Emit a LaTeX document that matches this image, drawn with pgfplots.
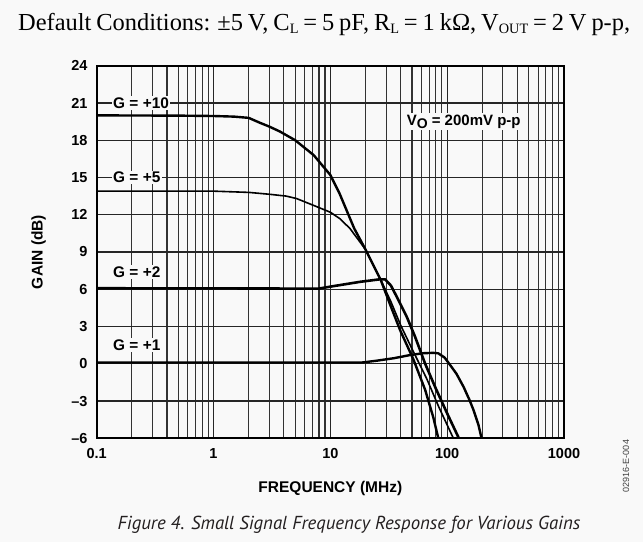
\documentclass[border=0pt]{standalone}
\usepackage{fontspec}
\setmainfont{Liberation Sans}
\newfontfamily\seriffont[WordSpace=0.8]{Liberation Serif}
\newfontfamily\capfont{PT Sans}
\usepackage{pgfplots}
\pgfplotsset{compat=1.18}
\definecolor{bg}{RGB}{249,249,249}
\definecolor{capcol}{RGB}{35,31,32}
\newcommand{\sub}[1]{\raisebox{-0.1em}{\fontsize{17}{17}\selectfont #1}}
\begin{document}
\begin{tikzpicture}[x=1pt,y=1pt]
\fill[bg] (0,0) rectangle (643,542);
\useasboundingbox (0,0) rectangle (643,542);
\node[anchor=base west, inner sep=0] at (18,511) {\resizebox{612pt}{!}{\seriffont\fontsize{29}{29}\selectfont Default Conditions: ±5 V, C\sub{L} = 5 pF, R\sub{L} = 1 kΩ, V\sub{OUT} = 2 V p-p,}};
\node[anchor=base, inner sep=0, text=capcol] at (349,13) {\capfont\itshape\fontsize{18.8}{18.8}\selectfont Figure 4. Small Signal Frequency Response for Various Gains};
\node[rotate=90, inner sep=0, text=black!75] at (626,76) {\fontsize{9}{9}\selectfont 02916-E-004};
\begin{axis}[
  at={(96.7pt,103.7pt)}, anchor=south west,
  scale only axis, width=467.3pt, height=372.6pt,
  xmode=log, xmin=0.1, xmax=1000, ymin=-6, ymax=24,
  xtick={0.1,1,10,100,1000}, xticklabels={0.1,1,10,100,1000},
  ytick={-6,-3,0,3,6,9,12,15,18,21,24},
  yticklabels={–6,–3,0,3,6,9,12,15,18,21,24},
  grid=both,
  major grid style={black!85, line width=1.1pt},
  minor grid style={black!80, line width=1.1pt},
  major tick length=0pt, minor tick length=0pt,
  tick style={draw=none},
  axis line style={line width=1.8pt},
  ticklabel style={font=\bfseries\fontsize{14.5}{14.5}\selectfont},
  yticklabel style={inner sep=0pt, anchor=east, xshift=-9pt},
  xticklabel style={inner sep=0pt, anchor=north, yshift=-10pt},
  xlabel={FREQUENCY (MHz)}, ylabel={GAIN (dB)},
  label style={font=\bfseries\fontsize{15.5}{15.5}\selectfont},
  xlabel style={at={(axis description cs:0.5,-0.1334)}, anchor=center},
  ylabel style={at={(axis description cs:-0.1245,0.5)}, anchor=center},
  every axis plot/.append style={line join=round, line cap=round},
]
% G = +10
\addplot[black, line width=2.4pt] coordinates {
(0.1,20.0)(0.5,19.98)(1,19.95)(1.5,19.9)(2,19.8)(2.5,19.4)(3,19.1)(3.7,18.7)(5,18.0)(7.2,16.8)(10,15.2)(12,13.7)(14,12.2)(16,10.9)(20,9.2)(27,6.75)(33,4.6)(39.5,2.72)(51.4,0.35)(64.8,-2.1)(76,-4.3)(84,-6)};
% G = +5
\addplot[black, line width=1.6pt] coordinates {
(0.1,13.9)(0.5,13.9)(1,13.9)(2,13.8)(3,13.65)(4.2,13.5)(5.15,13.3)(7.2,12.75)(10,12.2)(12,11.7)(14.7,10.9)(17,10.1)(20,9.2)(27,6.75)(33,5.0)(40,3.1)(50,1.2)(66.8,-1.2)(85,-3.5)(113,-6)};
% G = +2
\addplot[black, line width=2.6pt] coordinates {
(0.1,6.08)(1,6.07)(7.9,6.05)(10.6,6.25)(18,6.6)(26.5,6.8)(29.4,6.8)(33,6.3)(37,5.4)(45,3.8)(53,2.2)(64.8,0.0)(80,-2.0)(100,-4.0)(126,-6)};
% G = +1
\addplot[black, line width=2.4pt] coordinates {
(0.1,0.1)(1,0.1)(10,0.1)(18.6,0.1)(25,0.25)(35,0.45)(48,0.7)(62,0.85)(76,0.88)(84,0.84)(95,0.5)(106,-0.1)(120,-0.8)(138,-1.85)(155,-2.9)(168,-3.72)(185,-4.9)(197,-6)};
\node[fill=bg, inner sep=1.5pt, anchor=west, font=\bfseries\fontsize{15.4}{15.4}\selectfont] at (axis cs:0.134,21) {G = +10};
\node[fill=bg, inner sep=1.5pt, anchor=west, font=\bfseries\fontsize{15.4}{15.4}\selectfont] at (axis cs:0.134,15) {G = +5};
\node[fill=bg, inner sep=1.5pt, anchor=west, font=\bfseries\fontsize{15.4}{15.4}\selectfont] at (axis cs:0.134,7.4) {G = +2};
\node[fill=bg, inner sep=1.5pt, anchor=west, font=\bfseries\fontsize{15.4}{15.4}\selectfont] at (axis cs:0.134,1.5) {G = +1};
\node[fill=bg, inner sep=1.5pt, anchor=west, font=\bfseries\fontsize{15}{15}\selectfont] at (axis cs:43.6,19.5) {V\raisebox{-3pt}{\fontsize{14}{14}\selectfont O} = 200mV p-p};
\end{axis}
\end{tikzpicture}
\end{document}
